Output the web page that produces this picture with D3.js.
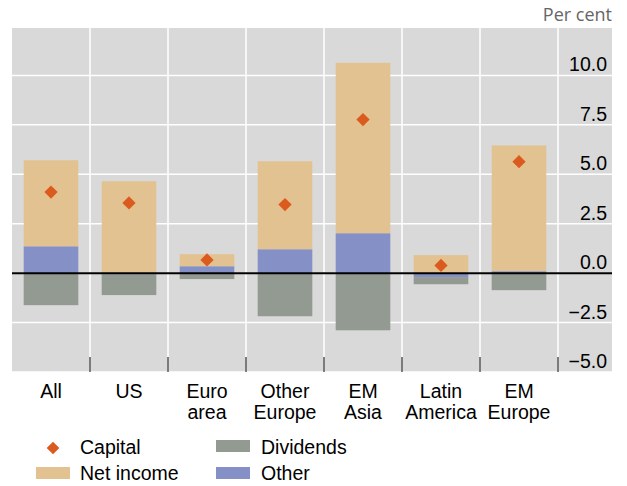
<!DOCTYPE html>
<html><head><meta charset="utf-8">
<script src="https://cdn.jsdelivr.net/npm/d3@7"></script>
<style>body{margin:0;background:#fff}svg{display:block}</style>
</head><body>
<script>
const categories = [["All"],["US"],["Euro","area"],["Other","Europe"],["EM","Asia"],["Latin","America"],["EM","Europe"]];
const catKeys = ["All","US","Euro area","Other Europe","EM Asia","Latin America","EM Europe"];
const netIncome = [4.35, 4.65, 0.61, 4.45, 8.62, 0.91, 6.36];
const other     = [1.36, -0.08, 0.35, 1.21, 2.02, -0.20, 0.10];
const dividends = [-1.62, -1.03, -0.30, -2.18, -2.89, -0.36, -0.86];
const capital   = [4.10, 3.55, 0.67, 3.47, 7.77, 0.39, 5.64];
const yTicks = [-5, -2.5, 0, 2.5, 5, 7.5, 10];

const W = 627, H = 486;
const colors = {netIncome:"#E2C290", other:"#8490C6", dividends:"#939A91", capital:"#DB5B1F"};
const font = "'Liberation Sans', Arial, sans-serif";
const fs = 19.5;

const svg = d3.select("body").append("svg").attr("width", W).attr("height", H);

const plotL = 12, plotR = 612, catR = 558, plotT = 28, plotB = 372;
const x = d3.scaleBand().domain(catKeys).range([plotL, catR]).paddingInner(0.3).paddingOuter(0.15);
const y = d3.scaleLinear().domain([-5, 12.4]).range([plotB, plotT]);

// background
svg.append("rect").attr("x", plotL).attr("y", plotT).attr("width", plotR - plotL).attr("height", plotB - plotT).attr("fill", "#D9D9D9");

// horizontal gridlines
svg.append("g").selectAll("line").data(yTicks).join("line")
  .attr("x1", plotL).attr("x2", plotR).attr("y1", d => y(d)).attr("y2", d => y(d))
  .attr("stroke", "#fff").attr("stroke-width", 1.5);

// vertical gridlines at category boundaries
const bounds = catKeys.map(c => x(c) + x.bandwidth() + (x.step() - x.bandwidth()) / 2);
svg.append("g").selectAll("line").data(bounds).join("line")
  .attr("x1", d => d).attr("x2", d => d).attr("y1", plotT).attr("y2", plotB)
  .attr("stroke", "#fff").attr("stroke-width", 1.5);

// stacked bars
const rows = catKeys.map((c, i) => ({cat: c, other: other[i], netIncome: netIncome[i], dividends: dividends[i]}));
const keys = ["other", "netIncome", "dividends"];
const series = d3.stack().keys(keys).offset(d3.stackOffsetDiverging)(rows);
svg.append("g").selectAll("g").data(series).join("g")
  .attr("fill", s => colors[s.key])
  .selectAll("rect").data(s => s).join("rect")
  .attr("x", d => x(d.data.cat)).attr("width", x.bandwidth())
  .attr("y", d => y(Math.max(d[0], d[1])))
  .attr("height", d => Math.abs(y(d[0]) - y(d[1])));

// zero line
svg.append("line").attr("x1", plotL).attr("x2", plotR).attr("y1", y(0)).attr("y2", y(0))
  .attr("stroke", "#000").attr("stroke-width", 2);

// capital diamonds
const diamond = d3.symbol().type(d3.symbolSquare).size(88);
svg.append("g").selectAll("path").data(capital).join("path")
  .attr("d", diamond)
  .attr("transform", (d, i) => `translate(${x(catKeys[i]) + x.bandwidth() / 2},${y(d)}) rotate(45)`)
  .attr("fill", colors.capital);

// x ticks
svg.append("g").selectAll("line").data(bounds).join("line")
  .attr("x1", d => d).attr("x2", d => d).attr("y1", plotB - 15).attr("y2", plotB)
  .attr("stroke", "#000").attr("stroke-width", 1);

// y tick labels
svg.append("g").selectAll("text").data(yTicks).join("text")
  .attr("x", 607).attr("y", d => y(d) - 4)
  .attr("text-anchor", "end").attr("font-family", font).attr("font-size", fs).attr("fill", "#000")
  .text(d => (d < 0 ? "\u2212" : "") + Math.abs(d).toFixed(1));

// category labels
const cl = svg.append("g").selectAll("text").data(categories).join("text")
  .attr("text-anchor", "middle").attr("font-family", font).attr("font-size", fs).attr("fill", "#000")
  .attr("transform", (d, i) => `translate(${x(catKeys[i]) + x.bandwidth() / 2},398)`);
cl.selectAll("tspan").data(d => d).join("tspan")
  .attr("x", 0).attr("dy", (d, j) => j === 0 ? 0 : 21).text(d => d);

// Per cent
svg.append("text").attr("x", 612).attr("y", 21).attr("text-anchor", "end")
  .attr("font-family", "'Open Sans', sans-serif").attr("font-size", 18).attr("fill", "#666").text("Per cent");

// legend
const lg = svg.append("g").attr("font-family", font).attr("font-size", fs);
lg.append("path").attr("d", d3.symbol().type(d3.symbolSquare).size(80))
  .attr("transform", "translate(53,448) rotate(45)").attr("fill", colors.capital);
lg.append("text").attr("x", 80).attr("y", 454).text("Capital");
lg.append("rect").attr("x", 36).attr("y", 467).attr("width", 34).attr("height", 12).attr("fill", colors.netIncome);
lg.append("text").attr("x", 80).attr("y", 480).text("Net income");
lg.append("rect").attr("x", 216).attr("y", 440).attr("width", 34).attr("height", 12).attr("fill", colors.dividends);
lg.append("text").attr("x", 261).attr("y", 454).text("Dividends");
lg.append("rect").attr("x", 216).attr("y", 467).attr("width", 34).attr("height", 12).attr("fill", colors.other);
lg.append("text").attr("x", 261).attr("y", 480).text("Other");
</script>
</body></html>
